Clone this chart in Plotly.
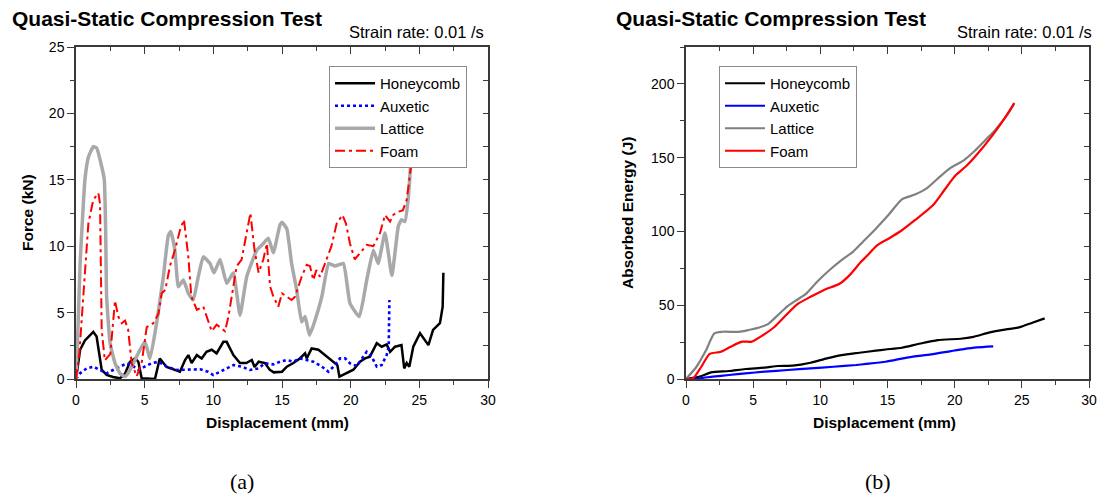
import plotly.graph_objects as go

# page body keeps its default 8px margin on every side: figure occupies window pixels 8..1098 x 8..494
WIN_W, WIN_H = 1106, 502
OFF = 8
W, H = WIN_W - 2 * OFF, WIN_H - 2 * OFF

# ---------------- Panel (a): Force vs displacement ----------------
hc_disp = [0, 0.3, 0.65, 1.0, 1.26, 1.5, 1.7, 1.87, 2.23, 2.7, 3.2, 3.57, 3.93, 4.3, 4.54, 4.78, 5.75,
           6.1, 6.6, 7.1, 7.57, 7.94, 8.18, 8.42, 8.8, 9.15, 9.5, 9.88, 10.24, 10.73, 10.97, 11.46,
           11.94, 12.4, 12.8, 13.0, 13.3, 13.76, 14.1, 14.4, 15.0, 15.35, 15.83, 16.3, 16.68, 16.8,
           17.16, 17.65, 18.13, 18.6, 19.03, 19.18, 19.7, 20.2, 20.68, 21.05, 21.4, 21.9, 22.26,
           22.62, 22.87, 23.23, 23.7, 23.9, 24.08, 24.27, 24.56, 25.05, 25.66, 26.0, 26.5, 26.7, 26.75]
hc_force = [0, 2.2, 2.9, 3.3, 3.55, 3.2, 1.9, 0.7, 0.3, 0.15, 0.05, 0.4, 1.3, 1.55, 1.3, 0.05, 0.0,
            1.55, 0.9, 0.7, 0.55, 1.43, 1.8, 1.2, 1.8, 1.55, 2.05, 2.2, 1.93, 2.8, 2.8, 1.8,
            1.2, 1.2, 1.43, 0.9, 1.3, 1.2, 0.7, 0.5, 0.55, 0.93, 1.2, 1.55, 1.93, 1.55,
            2.3, 2.2, 1.8, 1.43, 1.05, 0.18, 0.43, 0.7, 1.3, 1.55, 1.68, 2.7, 2.43,
            2.6, 2.05, 2.43, 2.55, 0.8, 1.2, 0.93, 2.43, 3.45, 2.55, 3.7, 4.2, 5.45, 8.0]

aux_disp = [0, 0.3, 0.78, 1.26, 1.75, 2.23, 2.7, 3.2, 3.7, 4.05, 4.54, 5.0, 5.5, 6.0, 6.6, 7.33, 8.06,
            9.03, 9.6, 10.0, 10.5, 10.97, 11.46, 12.06, 12.67, 13.28, 13.76, 14.37, 14.86, 15.35,
            15.83, 16.3, 16.8, 17.28, 17.9, 18.38, 18.86, 19.22, 19.6, 19.95, 20.44, 20.8, 21.17,
            21.53, 21.9, 22.26, 22.62, 22.77, 22.82]
aux_force = [0, 0.43, 0.8, 0.93, 0.68, 0.43, 0.68, 0.93, 1.18, 1.05, 0.68, 0.93, 1.18, 1.3, 0.93, 0.68, 0.68,
             0.73, 0.55, 0.3, 0.55, 0.8, 1.05, 0.93, 0.68, 0.8, 1.18, 1.1, 1.3, 1.43,
             1.3, 1.55, 1.43, 1.3, 0.93, 0.55, 1.05, 1.55, 1.55, 1.18, 0.98, 1.55, 2.05,
             1.68, 0.93, 1.05, 1.8, 2.43, 5.95]

lat_disp = [0, 0.15, 0.3, 0.65, 0.9, 1.26, 1.5, 1.87, 2.06, 2.16, 2.23, 2.48, 2.84, 3.2, 3.57, 3.93,
            4.3, 4.66, 5.02, 5.39, 5.87, 6.36, 6.72, 6.9, 7.2, 7.45, 7.82, 8.18, 8.54, 8.9, 9.27,
            9.76, 10.05, 10.49, 10.97, 11.46, 11.94, 12.43, 13.16, 13.64, 14.0, 14.37, 14.85,
            15.0, 15.35, 15.7, 16.07, 16.43, 16.68, 17.0, 17.4, 17.9, 18.4, 18.86, 19.47, 19.95,
            20.63, 21.17, 21.65, 22.0, 22.5, 23.0, 23.47, 23.7, 23.95, 24.2, 24.37]
lat_force = [0, 4.0, 8.7, 15.0, 16.7, 17.5, 17.4, 16.0, 15.0, 11.2, 6.2, 2.7, 1.2, 0.43, 0.18, 0.68,
             1.43, 2.2, 2.8, 1.55, 4.2, 7.7, 10.8, 11.1, 9.7, 6.95, 7.45, 6.45, 5.95, 7.7, 9.2,
             8.7, 8.0, 9.0, 7.2, 8.0, 4.8, 7.7, 9.7, 10.2, 10.6, 9.5, 11.6,
             11.8, 11.3, 8.7, 6.7, 4.3, 4.7, 3.3, 4.4, 6.2, 8.7, 8.5, 8.7, 5.7,
             4.7, 7.45, 9.7, 8.7, 11.0, 7.8, 11.5, 12.0, 11.85, 13.7, 16.2]

foam_disp = [0, 0.25, 0.53, 0.9, 1.26, 1.63, 1.75, 1.87, 2.1, 2.5, 2.84, 3.08, 3.33, 3.57, 3.8, 4.05,
             4.42, 4.78, 5.15, 5.63, 6.0, 6.24, 6.5, 6.84, 7.2, 7.57, 7.86, 8.18, 8.4, 8.8, 9.27,
             9.6, 9.88, 10.24, 10.85, 11.1, 11.7, 12.06, 12.4, 12.7, 13.0, 13.3, 13.64, 13.9,
             14.13, 14.37, 14.73, 15.0, 15.35, 15.7, 15.95, 16.43, 16.8, 17.04, 17.28, 17.5,
             17.77, 18.13, 18.6, 18.98, 19.4, 19.66, 19.95, 20.3, 20.68, 21.17, 21.65, 22.14,
             22.5, 22.87, 23.1, 23.47, 23.8, 24.08, 24.27, 24.44]
foam_force = [0, 2.0, 6.2, 11.7, 13.5, 14.0, 13.2, 3.7, 1.4, 1.9, 5.9, 4.7, 4.2, 4.4, 3.7, 1.2,
              0.2, 1.2, 3.9, 4.2, 4.9, 6.45, 6.7, 8.5, 9.7, 11.2, 12.0, 9.2, 6.2, 5.2, 5.45,
              4.4, 3.6, 4.1, 3.6, 4.7, 8.5, 9.0, 11.0, 12.5, 9.7, 8.0, 9.0, 10.2,
              7.0, 6.2, 5.45, 6.45, 6.2, 5.95, 6.2, 7.7, 8.6, 8.5, 7.45, 8.2,
              7.7, 8.7, 10.0, 11.7, 12.35, 11.7, 10.2, 9.0, 9.5, 10.1, 10.0, 11.0,
              12.35, 11.85, 12.35, 12.6, 12.7, 13.5, 15.0, 16.4]

# ---------------- Panel (b): Absorbed energy vs displacement ----------------
hc_e_disp = [0, 1.02, 1.87, 3.2, 4.42, 5.87, 6.84, 7.94, 9.27, 10.49, 11.58, 12.9, 14.13, 14.86,
             16.07, 17.28, 18.74, 20.44, 21.4, 22.62, 23.84, 24.8, 25.78, 26.7]
hc_energy = [0, 1.6, 4.5, 5.4, 6.8, 7.7, 8.8, 9.0, 11.0, 14.0, 16.2, 17.8, 19.2, 20.0,
             21.2, 23.7, 26.4, 27.3, 28.6, 31.6, 33.6, 35.0, 38.1, 41.1]

aux_e_disp = [0, 1.02, 2.0, 3.2, 4.42, 5.87, 7.57, 9.27, 10.97, 12.67, 13.4, 14.86, 16.56, 18.25,
              19.71, 20.68, 21.65, 22.87]
aux_energy = [0, 0.5, 1.6, 2.7, 3.8, 5.0, 6.1, 7.2, 8.3, 9.5, 10.2, 11.7, 14.7, 16.7,
              18.9, 20.3, 21.4, 22.1]

lat_e_disp = [0, 0.78, 1.5, 2.11, 2.72, 3.93, 4.66, 5.39, 6.1, 6.84, 7.57, 8.3, 8.9, 9.76, 10.73,
              11.7, 12.43, 13.16, 14.13, 15.1, 16.07, 17.04, 17.89, 18.74, 19.71, 20.68, 21.4,
              22.26, 22.99, 23.7, 24.2, 24.44]
lat_energy = [0, 8.3, 19.6, 30.9, 32.0, 32.0, 33.2, 34.7, 37.2, 43.3, 49.4, 53.9, 57.5, 65.9, 74.2,
              81.4, 86.2, 92.9, 101.9, 111.5, 121.8, 125.0, 129.0, 135.8, 143.2, 148.2, 153.8,
              161.7, 168.5, 176.4, 183.1, 187.0]

foam_e_disp = [0, 0.53, 1.14, 1.75, 2.6, 3.33, 4.17, 4.9, 5.75, 6.6, 7.33, 8.3, 9.27, 10.24, 11.46,
               12.18, 13.03, 13.4, 14.25, 15.1, 16.07, 17.04, 18.38, 19.22, 20.07, 20.92, 22.02,
               22.99, 23.7, 24.44]
foam_energy = [0, 0.5, 8.3, 16.9, 18.5, 21.9, 25.3, 25.3, 29.8, 35.4, 42.2, 50.7, 55.7, 60.2, 64.7,
               70.4, 79.4, 82.8, 90.7, 95.2, 100.8, 107.6, 117.7, 127.9, 138.0, 144.8, 156.0,
               167.3, 176.4, 187.0]

series_names = ["Honeycomb", "Auxetic", "Lattice", "Foam"]

FONT = "Liberation Sans, Arial, sans-serif"
AX_COL = "#3a3a3a"


def px_x(p):
    """window pixel -> paper fraction"""
    return (p - OFF) / W


def px_y(p):
    return 1 - (p - OFF) / H


fig = go.Figure()

# Panel (a) traces
fig.add_trace(go.Scatter(x=hc_disp, y=hc_force, name=series_names[0], mode="lines",
                         line=dict(color="black", width=2.5), legend="legend"))
fig.add_trace(go.Scatter(x=aux_disp, y=aux_force, name=series_names[1], mode="lines",
                         line=dict(color="#0000ff", width=2.6, dash="3px,3px"), legend="legend"))
fig.add_trace(go.Scatter(x=lat_disp, y=lat_force, name=series_names[2], mode="lines",
                         line=dict(color="#a9a9a9", width=3.5, shape="spline", smoothing=0.4),
                         legend="legend"))
fig.add_trace(go.Scatter(x=foam_disp, y=foam_force, name=series_names[3], mode="lines",
                         line=dict(color="#ff0000", width=2, dash="10px,4px,3px,4px"), legend="legend"))

# Panel (b) traces
fig.add_trace(go.Scatter(x=hc_e_disp, y=hc_energy, name=series_names[0], mode="lines",
                         line=dict(color="black", width=2.2, shape="spline", smoothing=0.6),
                         xaxis="x2", yaxis="y2", legend="legend2"))
fig.add_trace(go.Scatter(x=aux_e_disp, y=aux_energy, name=series_names[1], mode="lines",
                         line=dict(color="#0000ff", width=2.2, shape="spline", smoothing=0.6),
                         xaxis="x2", yaxis="y2", legend="legend2"))
fig.add_trace(go.Scatter(x=lat_e_disp, y=lat_energy, name=series_names[2], mode="lines",
                         line=dict(color="#808080", width=2.2, shape="spline", smoothing=0.6),
                         xaxis="x2", yaxis="y2", legend="legend2"))
fig.add_trace(go.Scatter(x=foam_e_disp, y=foam_energy, name=series_names[3], mode="lines",
                         line=dict(color="#ff0000", width=2.2, shape="spline", smoothing=0.6),
                         xaxis="x2", yaxis="y2", legend="legend2"))

# dummy traces so the overlay (inside-tick) axes are drawn
fig.add_trace(go.Scatter(x=[], y=[], xaxis="x3", yaxis="y3", showlegend=False, hoverinfo="skip"))
fig.add_trace(go.Scatter(x=[], y=[], xaxis="x4", yaxis="y4", showlegend=False, hoverinfo="skip"))

dom_y = [px_y(379), px_y(47)]
dom_xa = [px_x(76), px_x(488)]
dom_xb = [px_x(686), px_x(1089)]

tickfont = dict(family=FONT, size=14, color="black")

common_x = dict(range=[0, 30], dtick=5, tick0=0, showgrid=False, zeroline=False, automargin=False,
                showline=True, linecolor=AX_COL, linewidth=1.5, mirror=True,
                ticks="outside", ticklen=7, tickwidth=1.2, tickcolor=AX_COL,
                minor=dict(dtick=2.5, ticks="outside", ticklen=4, tickcolor=AX_COL, showgrid=False),
                tickfont=tickfont)

top_x = dict(range=[0, 30], dtick=5, tick0=0, showgrid=False, zeroline=False, showline=False,
             automargin=False,
             ticks="inside", ticklen=7, tickwidth=1.2, tickcolor=AX_COL, showticklabels=False,
             minor=dict(dtick=2.5, ticks="inside", ticklen=4, tickcolor=AX_COL, showgrid=False),
             side="top")

right_y = dict(range=[0, 25], dtick=2.5, tick0=0, showgrid=False, zeroline=False, showline=False,
               automargin=False,
               ticks="inside", ticklen=5, tickwidth=1.2, tickcolor=AX_COL, showticklabels=False,
               side="right")

legend_common = dict(xanchor="left", yanchor="top", bgcolor="white", bordercolor="#8c8c8c",
                     borderwidth=1, font=dict(family=FONT, size=15, color="black"),
                     tracegroupgap=0, itemwidth=40)

fig.update_layout(
    template="none",
    width=W, height=H, autosize=False,
    margin=dict(l=0, r=0, t=0, b=0, pad=0, autoexpand=False),
    paper_bgcolor="white", plot_bgcolor="white",
    font=dict(family=FONT, color="black"),
    xaxis=dict(domain=dom_xa, anchor="y", **common_x),
    yaxis=dict(domain=dom_y, anchor="x", range=[0, 25], dtick=5, tick0=0, showgrid=False,
               zeroline=False, showline=True, linecolor=AX_COL, linewidth=1.5, mirror=True,
               automargin=False,
               ticks="outside", ticklen=7, tickwidth=1.2, tickcolor=AX_COL,
               minor=dict(dtick=2.5, ticks="outside", ticklen=4, tickcolor=AX_COL, showgrid=False),
               tickfont=tickfont),
    xaxis2=dict(domain=dom_xb, anchor="y2", **common_x),
    yaxis2=dict(domain=dom_y, anchor="x2", range=[0, 225], dtick=50, tick0=0, showgrid=False,
                zeroline=False, showline=True, linecolor=AX_COL, linewidth=1.5, mirror=True,
                automargin=False,
                ticks="outside", ticklen=7, tickwidth=1.2, tickcolor=AX_COL,
                minor=dict(dtick=25, ticks="outside", ticklen=4, tickcolor=AX_COL, showgrid=False),
                tickfont=tickfont),
    xaxis3=dict(overlaying="x", anchor="y", **top_x),
    yaxis3=dict(overlaying="y", anchor="x", **right_y),
    xaxis4=dict(overlaying="x2", anchor="y2", **top_x),
    yaxis4=dict(overlaying="y2", anchor="x2", **right_y),
    legend=dict(x=px_x(329), y=px_y(66), **legend_common),
    legend2=dict(x=px_x(719), y=px_y(66), **legend_common),
    showlegend=True,
)

annots = []
for cx, title_x, sr_x, ytitle, ytitle_x, cap_x, cap in [
    (277, 10, 486, "Force (kN)", 27, 242, "(a)"),
    (884, 614, 1094, "Absorbed Energy (J)", 627, 878, "(b)"),
]:
    annots.append(dict(text="<b>Quasi-Static Compression Test</b>", x=px_x(title_x), y=px_y(18.5),
                       xref="paper", yref="paper", xanchor="left", yanchor="middle", showarrow=False,
                       font=dict(family=FONT, size=21, color="black")))
    annots.append(dict(text="Strain rate: 0.01 /s", x=px_x(sr_x), y=px_y(32),
                       xref="paper", yref="paper", xanchor="right", yanchor="middle", showarrow=False,
                       font=dict(family=FONT, size=16.5, color="black")))
    annots.append(dict(text="<b>Displacement (mm)</b>", x=px_x(cx), y=px_y(422),
                       xref="paper", yref="paper", xanchor="center", yanchor="middle", showarrow=False,
                       font=dict(family=FONT, size=15.5, color="black")))
    annots.append(dict(text="<b>" + ytitle + "</b>", x=px_x(ytitle_x), y=px_y(213),
                       xref="paper", yref="paper", xanchor="center", yanchor="middle", showarrow=False,
                       textangle=-90, font=dict(family=FONT, size=15.5, color="black")))
    annots.append(dict(text=cap, x=px_x(cap_x), y=px_y(481),
                       xref="paper", yref="paper", xanchor="center", yanchor="middle", showarrow=False,
                       font=dict(family="Liberation Serif, DejaVu Serif, serif", size=22, color="black")))
fig.update_layout(annotations=annots)

fig.write_html("out.html")
